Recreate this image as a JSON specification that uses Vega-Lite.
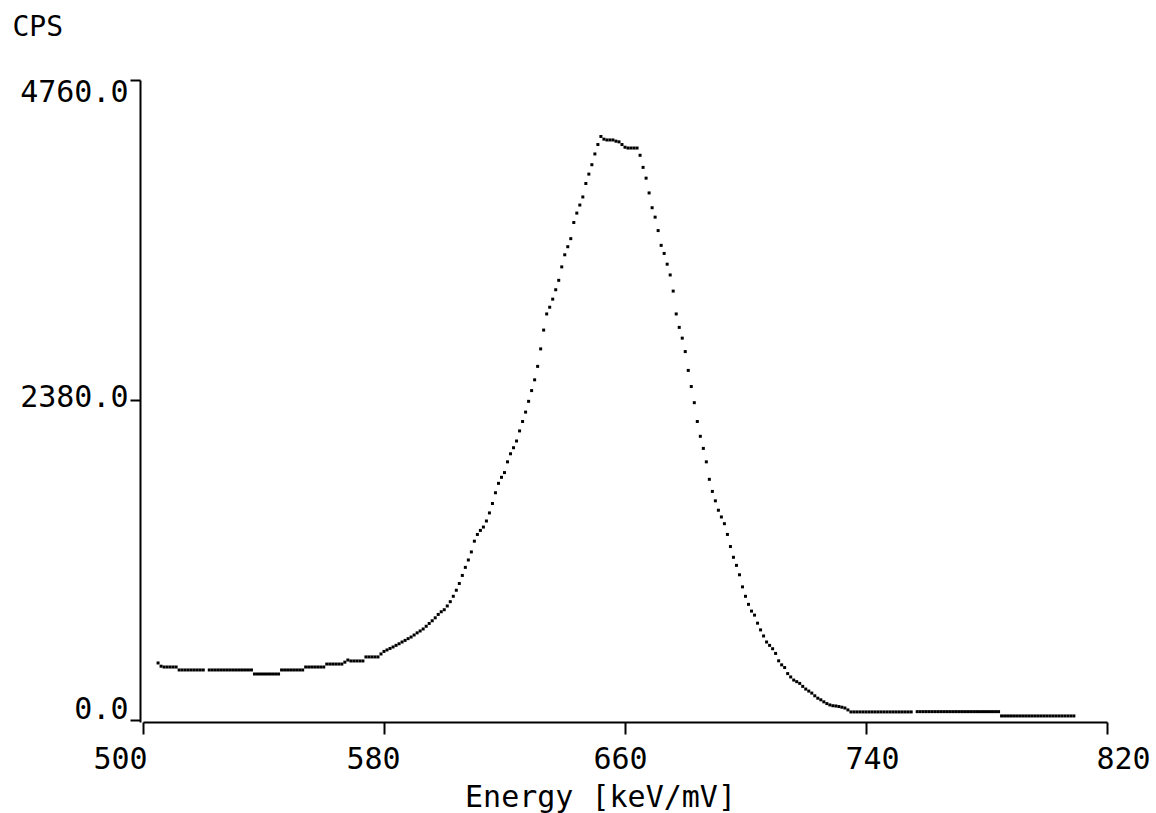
{
  "$schema": "https://vega.github.io/schema/vega-lite/v6.json",
  "autosize": {"type": "none"},
  "padding": {"left": 143, "top": 80, "right": 49, "bottom": 91},
  "width": 964,
  "height": 642,
  "background": "white",
  "config": {"view": {"stroke": null}},
  "data": {"values": [
    {"e":505,"c":424},{"e":506,"c":400},{"e":507,"c":394},{"e":508,"c":394},{"e":509,"c":394},{"e":510,"c":394},{"e":511,"c":394},
    {"e":512,"c":372},{"e":513,"c":372},{"e":514,"c":372},{"e":515,"c":372},{"e":516,"c":372},{"e":517,"c":372},{"e":518,"c":372},{"e":519,"c":372},{"e":520,"c":372},
    {"e":522,"c":372},{"e":523,"c":372},{"e":524,"c":372},{"e":525,"c":372},{"e":526,"c":372},{"e":527,"c":372},{"e":528,"c":372},{"e":529,"c":372},{"e":530,"c":372},{"e":531,"c":372},{"e":532,"c":372},{"e":533,"c":372},{"e":534,"c":372},{"e":535,"c":372},{"e":536,"c":372},
    {"e":537,"c":342},{"e":538,"c":342},{"e":539,"c":342},{"e":540,"c":342},{"e":541,"c":342},{"e":542,"c":342},{"e":543,"c":342},{"e":544,"c":342},{"e":545,"c":342},
    {"e":546,"c":372},{"e":547,"c":372},{"e":548,"c":372},{"e":549,"c":372},{"e":550,"c":372},{"e":551,"c":372},{"e":552,"c":372},{"e":553,"c":372},
    {"e":554,"c":394},{"e":555,"c":394},{"e":556,"c":394},{"e":557,"c":394},{"e":558,"c":394},{"e":559,"c":394},{"e":560,"c":394},
    {"e":561,"c":416},{"e":562,"c":416},{"e":563,"c":416},{"e":564,"c":416},{"e":565,"c":416},{"e":566,"c":416},
    {"e":567,"c":430},{"e":568,"c":446},{"e":569,"c":439},{"e":570,"c":439},{"e":571,"c":439},{"e":572,"c":439},{"e":573,"c":439},
    {"e":574,"c":469},{"e":575,"c":469},{"e":576,"c":469},{"e":577,"c":469},{"e":578,"c":469},
    {"e":579,"c":491},{"e":580,"c":510},{"e":581,"c":521},{"e":582,"c":532},{"e":583,"c":543},{"e":584,"c":555},{"e":585,"c":567},{"e":586,"c":580},{"e":587,"c":592},{"e":588,"c":605},{"e":589,"c":617},
    {"e":590,"c":632},{"e":591,"c":648},{"e":592,"c":662},{"e":593,"c":677},{"e":594,"c":697},{"e":595,"c":718},{"e":596,"c":738},{"e":597,"c":760},{"e":598,"c":785},{"e":599,"c":805},
    {"e":600,"c":820},{"e":601,"c":848},{"e":602,"c":880},{"e":603,"c":920},{"e":604,"c":965},{"e":605,"c":1015},{"e":606,"c":1075},{"e":607,"c":1135},{"e":608,"c":1190},{"e":609,"c":1250},
    {"e":610,"c":1330},{"e":611,"c":1380},{"e":612,"c":1410},{"e":613,"c":1435},{"e":614,"c":1480},{"e":615,"c":1540},{"e":616,"c":1610},{"e":617,"c":1690},{"e":618,"c":1760},{"e":619,"c":1805},
    {"e":620,"c":1840},{"e":621,"c":1920},{"e":622,"c":1980},{"e":623,"c":2025},{"e":624,"c":2075},{"e":625,"c":2150},{"e":626,"c":2220},{"e":627,"c":2290},{"e":628,"c":2370},{"e":629,"c":2450},
    {"e":630,"c":2530},{"e":631,"c":2630},{"e":632,"c":2760},{"e":633,"c":2900},{"e":634,"c":3020},{"e":635,"c":3070},{"e":636,"c":3130},{"e":637,"c":3200},{"e":638,"c":3270},{"e":639,"c":3370},
    {"e":640,"c":3460},{"e":641,"c":3520},{"e":642,"c":3580},{"e":643,"c":3700},{"e":644,"c":3770},{"e":645,"c":3830},{"e":646,"c":3890},{"e":647,"c":3990},{"e":648,"c":4060},{"e":649,"c":4130},
    {"e":650,"c":4210},{"e":651,"c":4280},{"e":652,"c":4340},{"e":653,"c":4320},{"e":654,"c":4314},{"e":655,"c":4314},{"e":656,"c":4314},{"e":657,"c":4305},{"e":658,"c":4300},{"e":659,"c":4280},
    {"e":660,"c":4260},{"e":661,"c":4254},{"e":662,"c":4254},{"e":663,"c":4254},{"e":664,"c":4254},{"e":665,"c":4200},{"e":666,"c":4110},{"e":667,"c":4030},{"e":668,"c":3920},{"e":669,"c":3810},
    {"e":670,"c":3740},{"e":671,"c":3640},{"e":672,"c":3530},{"e":673,"c":3470},{"e":674,"c":3390},{"e":675,"c":3310},{"e":676,"c":3190},{"e":677,"c":3020},{"e":678,"c":2920},{"e":679,"c":2840},
    {"e":680,"c":2740},{"e":681,"c":2600},{"e":682,"c":2480},{"e":683,"c":2360},{"e":684,"c":2220},{"e":685,"c":2110},{"e":686,"c":2020},{"e":687,"c":1920},{"e":688,"c":1790},{"e":689,"c":1700},
    {"e":690,"c":1630},{"e":691,"c":1560},{"e":692,"c":1510},{"e":693,"c":1460},{"e":694,"c":1380},{"e":695,"c":1290},{"e":696,"c":1210},{"e":697,"c":1150},{"e":698,"c":1080},{"e":699,"c":990},
    {"e":700,"c":920},{"e":701,"c":860},{"e":702,"c":810},{"e":703,"c":780},{"e":704,"c":720},{"e":705,"c":670},{"e":706,"c":625},{"e":707,"c":580},{"e":708,"c":555},{"e":709,"c":530},
    {"e":710,"c":495},{"e":711,"c":440},{"e":712,"c":410},{"e":713,"c":390},{"e":714,"c":345},{"e":715,"c":320},{"e":716,"c":297},{"e":717,"c":285},{"e":718,"c":272},{"e":719,"c":250},
    {"e":720,"c":230},{"e":721,"c":215},{"e":722,"c":200},{"e":723,"c":180},{"e":724,"c":162},{"e":725,"c":150},{"e":726,"c":135},{"e":727,"c":122},{"e":728,"c":112},{"e":729,"c":106},
    {"e":730,"c":104},{"e":731,"c":100},{"e":732,"c":95},{"e":733,"c":89},{"e":734,"c":75},
    {"e":735,"c":60},{"e":736,"c":60},{"e":737,"c":60},{"e":738,"c":60},{"e":739,"c":60},{"e":740,"c":60},{"e":741,"c":60},{"e":742,"c":60},{"e":743,"c":60},{"e":744,"c":60},
    {"e":745,"c":60},{"e":746,"c":60},{"e":747,"c":60},{"e":748,"c":60},{"e":749,"c":60},{"e":750,"c":60},{"e":751,"c":60},{"e":752,"c":60},{"e":753,"c":60},{"e":754,"c":60},{"e":755,"c":60},
    {"e":757,"c":62},{"e":758,"c":62},{"e":759,"c":62},{"e":760,"c":62},{"e":761,"c":62},{"e":762,"c":62},{"e":763,"c":62},{"e":764,"c":62},{"e":765,"c":62},{"e":766,"c":62},
    {"e":767,"c":62},{"e":768,"c":62},{"e":769,"c":62},{"e":770,"c":62},{"e":771,"c":62},{"e":772,"c":62},{"e":773,"c":62},{"e":774,"c":62},{"e":775,"c":62},{"e":776,"c":62},
    {"e":777,"c":62},{"e":778,"c":62},{"e":779,"c":62},{"e":780,"c":62},{"e":781,"c":62},{"e":782,"c":62},{"e":783,"c":62},{"e":784,"c":62},
    {"e":785,"c":30},{"e":786,"c":30},{"e":787,"c":30},{"e":788,"c":30},{"e":789,"c":30},{"e":790,"c":30},{"e":791,"c":30},{"e":792,"c":30},{"e":793,"c":30},{"e":794,"c":30},
    {"e":795,"c":30},{"e":796,"c":30},{"e":797,"c":30},{"e":798,"c":30},{"e":799,"c":30},{"e":800,"c":30},{"e":801,"c":30},{"e":802,"c":30},{"e":803,"c":30},{"e":804,"c":30},
    {"e":805,"c":30},{"e":806,"c":30},{"e":807,"c":30},{"e":808,"c":30},{"e":809,"c":30}
  ]},
  "mark": {"type": "point", "shape": "square", "filled": true, "size": 9, "color": "black", "opacity": 1},
  "encoding": {
    "x": {
      "field": "e", "type": "quantitative",
      "scale": {"domain": [500, 820], "nice": false, "zero": false},
      "axis": {
        "title": "Energy [keV/mV]",
        "values": [500, 580, 660, 740, 820],
        "format": "d",
        "grid": false,
        "domainColor": "black", "domainWidth": 2,
        "tickColor": "black", "tickWidth": 2, "tickSize": 12,
        "labelFont": "DejaVu Sans Mono", "labelFontSize": 30, "labelColor": "black",
        "labelPadding": 10, "labelFlush": false, "labelOverlap": false,
        "labelOffset": {"condition": [{"test": "datum.value == 500", "value": -23}, {"test": "datum.value == 580", "value": -11}, {"test": "datum.value == 740", "value": 6}, {"test": "datum.value == 820", "value": 16}], "value": -5},
        "titleFont": "DejaVu Sans Mono", "titleFontSize": 30, "titleFontWeight": "normal", "titleColor": "black",
        "titleX": 457, "titleY": 84, "titleAlign": "center", "titleBaseline": "alphabetic"
      }
    },
    "y": {
      "field": "c", "type": "quantitative",
      "scale": {"domain": [-15, 4760], "nice": false, "zero": false},
      "axis": {
        "title": "CPS",
        "values": [0, 2380, 4760],
        "format": ".1f",
        "grid": false,
        "offset": 3,
        "domainColor": "black", "domainWidth": 2,
        "tickColor": "black", "tickWidth": 2, "tickSize": 10,
        "labelFont": "DejaVu Sans Mono", "labelFontSize": 30, "labelColor": "black",
        "labelPadding": 2, "labelFlush": false, "labelOverlap": false,
        "labelOffset": {"condition": [{"test": "datum.value == 4760", "value": 12}, {"test": "datum.value == 0", "value": -10}], "value": -2},
        "titleFont": "DejaVu Sans Mono", "titleFontSize": 28, "titleFontWeight": "normal", "titleColor": "black",
        "titleAngle": 0, "titleX": -128, "titleY": -45, "titleAlign": "left", "titleBaseline": "alphabetic"
      }
    }
  }
}
